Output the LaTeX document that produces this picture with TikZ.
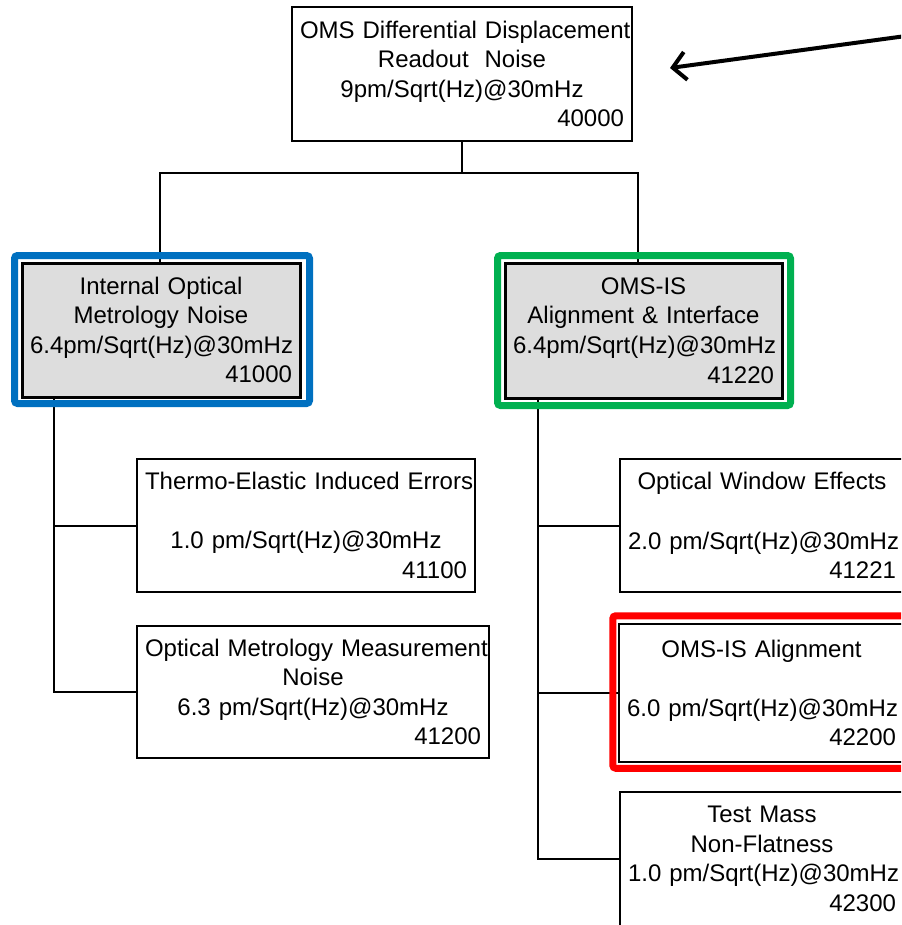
\documentclass[tikz,border=0pt]{standalone}
\usepackage{fontspec}
\setmainfont{Liberation Sans}
\usetikzlibrary{arrows.meta,calc}
\definecolor{boxgray}{HTML}{DDDDDD}
\definecolor{frblue}{HTML}{0070C0}
\definecolor{frgreen}{HTML}{00B050}
\definecolor{frred}{HTML}{FF0000}
\newcommand{\idnum}[1]{\makebox[\hsize][r]{#1}}
\begin{document}
\begin{tikzpicture}[x=1pt,y=-1pt,
  every node/.style={font=\fontsize{24}{29.6}\selectfont},
  wbox/.style={draw=black, line width=2pt, fill=white, rectangle, inner sep=0pt, align=center},
  gbox/.style={wbox, fill=boxgray, line width=3pt},
  frame/.style={draw=#1, line width=7pt, rounded corners=3pt},
  conn/.style={draw=black, line width=2pt},
  bigarrow/.style={draw=black, line width=4pt, -{Straight Barb[length=13pt,width=28pt,line width=4pt]}}
]
\useasboundingbox (0,0) rectangle (901,925);
\clip (0,0) rectangle (901,925);
\fill[white] (0,0) rectangle (901,925);

% coordinates for the connector layout
\coordinate (bus) at (462,173);
\coordinate (atail) at (906,36);
\coordinate (atip) at (670,68);

% boxes
\node[wbox, minimum width=340, minimum height=134, text width=324] (top) at (462,74)
  {\mbox{OMS Differential Displacement}\\Readout~ Noise\\9pm/Sqrt(Hz)@30mHz\\\idnum{40000}};

\node[gbox, minimum width=278, minimum height=134, text width=262] (lg) at (161,330)
  {Internal Optical\\Metrology Noise\\\mbox{6.4pm/Sqrt(Hz)@30mHz}\\\idnum{41000}};

\node[gbox, minimum width=277, minimum height=135, text width=261] (rg) at (643.5,330.5)
  {OMS-IS\\Alignment \& Interface\\\mbox{6.4pm/Sqrt(Hz)@30mHz}\\\idnum{41220}};

\node[wbox, minimum width=338, minimum height=133, text width=322] (te) at (306,525.5)
  {\mbox{Thermo-Elastic Induced Errors}\\\strut\\1.0 pm/Sqrt(Hz)@30mHz\\\idnum{41100}};

\node[wbox, minimum width=352, minimum height=132, text width=336] (om) at (313,692)
  {\mbox{Optical Metrology Measurement}\\Noise\\6.3 pm/Sqrt(Hz)@30mHz\\\idnum{41200}};

\node[wbox, minimum width=284, minimum height=133, text width=268] (ow) at (762,525.5)
  {Optical Window Effects\\\strut\\\mbox{2.0 pm/Sqrt(Hz)@30mHz}\\\idnum{41221}};

\node[wbox, minimum width=285, minimum height=138, text width=269, line width=2.5pt] (al) at (761.5,693)
  {OMS-IS Alignment\\\strut\\\mbox{6.0 pm/Sqrt(Hz)@30mHz}\\\idnum{42200}};

\node[wbox, minimum width=284, minimum height=134, text width=268] (tm) at (762,859)
  {Test Mass\\Non-Flatness\\\mbox{1.0 pm/Sqrt(Hz)@30mHz}\\\idnum{42300}};

% connectors
\draw[conn] (top.south) -- (bus);
\draw[conn] ([xshift=-1]lg.north) |- (bus) -| ([xshift=-6]rg.north);
\coordinate (lt) at ([xshift=33]lg.south west);
\coordinate (rt) at ([xshift=34]rg.south west);
\draw[conn] (lt) |- (om.west);
\draw[conn] (te.west) -- (te.west -| lt);
\draw[conn] (rt) |- (tm.west);
\draw[conn] (ow.west) -- (ow.west -| rt);
\draw[conn] (al.west) -- (al.west -| rt);

% colored frames
\draw[frame=frblue] ($(lg.north west)+(-6,-6)$) rectangle ($(lg.south east)+(8,5)$);
\draw[frame=frgreen] ($(rg.north west)+(-6,-6)$) rectangle ($(rg.south east)+(7,6)$);
\draw[frame=frred] ($(al.north west)+(-5,-7)$) rectangle ($(al.south east)+(8,5)$);

% arrow
\draw[bigarrow] (atail) -- (atip);
\end{tikzpicture}
\end{document}
